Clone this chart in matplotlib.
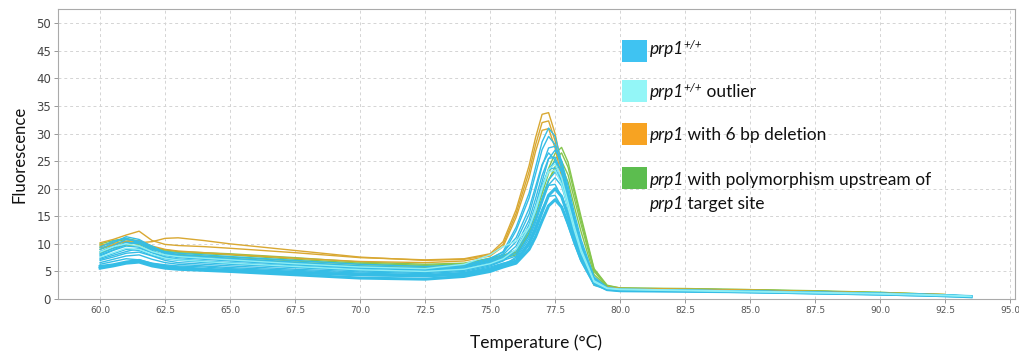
import matplotlib
matplotlib.use("Agg")
import matplotlib.pyplot as plt
from matplotlib.patches import Rectangle

# Temperature grid (°C)
temps = [60.0, 60.5, 61.0, 61.5, 62.0, 62.5, 63.0, 64.0, 65.0, 67.5, 70.0, 72.5, 74.0, 75.0,
         75.5, 76.0, 76.5, 76.75, 77.0, 77.25, 77.5, 77.75, 78.0, 78.25, 78.5, 79.0, 79.5, 80.0,
         82.5, 85.0, 87.5, 90.0, 92.5, 93.5]

# prp1+/+ curves (blue)
wt_curves = [
    [5.6, 6.0, 6.5, 6.7, 6.0, 5.6, 5.4, 5.2, 5.0, 4.4, 3.8, 3.6, 4.1, 5.0,
     5.8, 6.5, 9.0, 11.3, 14.2, 16.9, 18.0, 16.7, 13.7, 10.3, 7.2, 2.9, 1.7, 1.5,
     1.4, 1.3, 1.1, 0.9, 0.6, 0.4],
    [5.9, 6.2, 6.7, 7.0, 6.3, 5.9, 5.7, 5.4, 5.2, 4.8, 4.4, 4.2, 4.5, 5.3,
     6.1, 6.8, 10.0, 12.6, 15.8, 18.8, 20.0, 18.6, 15.2, 11.4, 8.0, 3.1, 1.8, 1.6,
     1.5, 1.3, 1.1, 0.9, 0.6, 0.45],
    [6.3, 6.8, 7.3, 7.1, 6.5, 6.2, 6.0, 5.8, 5.5, 5.0, 4.5, 4.3, 4.7, 5.6,
     6.4, 7.3, 11.0, 13.9, 17.4, 20.7, 22.0, 20.5, 16.7, 12.5, 8.8, 3.3, 1.9, 1.6,
     1.5, 1.4, 1.2, 1.0, 0.7, 0.5],
    [7.0, 7.6, 8.3, 8.5, 7.8, 7.0, 6.6, 6.3, 6.0, 5.4, 4.9, 4.6, 5.0, 6.0,
     6.9, 8.9, 13.2, 16.8, 20.6, 23.5, 23.8, 21.1, 16.8, 12.5, 8.6, 3.1, 1.9, 1.7,
     1.5, 1.3, 1.1, 0.9, 0.6, 0.45],
    [7.4, 8.2, 9.0, 8.8, 7.9, 7.3, 7.0, 6.6, 6.3, 5.7, 5.1, 4.8, 5.2, 6.3,
     7.2, 8.3, 12.5, 15.8, 19.8, 23.5, 25.0, 23.3, 19.0, 14.3, 10.0, 3.8, 2.0, 1.7,
     1.5, 1.4, 1.2, 1.0, 0.7, 0.5],
    [7.8, 8.8, 9.6, 9.4, 8.4, 7.6, 7.2, 6.9, 6.6, 6.0, 5.4, 5.0, 5.4, 6.5,
     7.5, 9.6, 14.3, 18.2, 22.4, 25.5, 25.7, 22.9, 18.2, 13.5, 9.4, 3.4, 1.9, 1.7,
     1.5, 1.3, 1.1, 0.9, 0.6, 0.45],
    [8.2, 9.2, 10.3, 10.0, 8.8, 7.9, 7.5, 7.2, 6.9, 6.2, 5.6, 5.2, 5.6, 6.7,
     7.7, 8.9, 13.5, 17.0, 21.3, 25.4, 27.0, 25.1, 20.5, 15.4, 10.8, 4.0, 2.1, 1.8,
     1.6, 1.4, 1.2, 1.0, 0.7, 0.5],
    [8.6, 9.6, 10.8, 10.5, 9.2, 8.2, 7.8, 7.5, 7.2, 6.5, 5.8, 5.4, 5.8, 7.0,
     8.0, 10.4, 15.4, 19.6, 24.1, 27.4, 27.7, 24.6, 19.6, 14.6, 10.1, 3.6, 2.0, 1.7,
     1.5, 1.3, 1.1, 0.9, 0.6, 0.45],
    [9.0, 10.2, 11.3, 10.8, 9.5, 8.5, 8.0, 7.7, 7.4, 6.7, 6.0, 5.6, 6.0, 7.2,
     8.6, 13.0, 19.2, 23.9, 28.5, 31.0, 29.5, 24.8, 19.2, 14.0, 9.3, 3.1, 1.9, 1.7,
     1.5, 1.3, 1.1, 0.9, 0.6, 0.45],
    [6.6, 7.2, 7.8, 8.0, 7.2, 6.6, 6.3, 6.0, 5.7, 5.2, 4.7, 4.4, 4.8, 5.8,
     6.5, 7.0, 10.5, 13.3, 16.3, 18.6, 18.8, 16.7, 13.3, 9.9, 6.8, 2.5, 1.7, 1.5,
     1.4, 1.2, 1.0, 0.8, 0.6, 0.4],
    [7.2, 7.9, 8.6, 9.2, 8.4, 7.6, 7.2, 6.8, 6.4, 5.8, 5.2, 4.9, 5.3, 6.2,
     7.0, 7.8, 11.6, 14.7, 18.1, 20.6, 20.8, 18.5, 14.7, 10.9, 7.6, 2.7, 1.8, 1.6,
     1.4, 1.3, 1.1, 0.9, 0.6, 0.45],
    [8.0, 8.9, 9.9, 10.4, 9.6, 8.4, 7.8, 7.4, 7.0, 6.3, 5.7, 5.3, 5.7, 6.8,
     8.2, 12.4, 18.3, 22.7, 27.1, 29.5, 28.0, 23.6, 18.3, 13.3, 8.9, 3.0, 1.9, 1.7,
     1.5, 1.3, 1.1, 0.9, 0.6, 0.45],
    [5.7, 6.1, 6.6, 6.9, 6.2, 5.8, 5.5, 5.3, 5.1, 4.7, 4.3, 4.1, 4.4, 5.1,
     6.0, 7.6, 11.5, 14.5, 18.2, 21.6, 23.0, 21.4, 17.5, 13.1, 9.2, 3.5, 1.8, 1.6,
     1.4, 1.3, 1.1, 0.9, 0.6, 0.4],
    [9.4, 10.5, 11.0, 10.2, 9.0, 8.6, 8.3, 8.0, 7.7, 7.0, 6.3, 5.9, 6.2, 7.4,
     8.5, 11.1, 16.4, 20.4, 24.4, 26.5, 25.2, 21.2, 16.4, 11.9, 8.0, 2.7, 1.9, 1.7,
     1.5, 1.4, 1.2, 1.0, 0.7, 0.5],
]

# prp1+/+ outlier curves (light cyan)
outlier_curves = [
    [8.5, 9.5, 10.0, 9.6, 8.6, 8.0, 7.7, 7.4, 7.1, 6.4, 5.8, 5.5, 6.3, 8.0,
     9.5, 10.5, 13.0, 16.0, 20.0, 23.5, 24.5, 22.0, 17.5, 13.0, 9.0, 3.3, 2.0, 1.8,
     1.6, 1.4, 1.2, 1.0, 0.7, 0.5],
    [7.6, 8.4, 9.2, 9.0, 8.1, 7.4, 7.1, 6.8, 6.5, 5.9, 5.3, 5.0, 5.4, 6.4,
     7.3, 9.0, 13.0, 16.5, 20.2, 23.0, 23.4, 20.8, 16.6, 12.3, 8.5, 3.1, 1.9, 1.7,
     1.5, 1.3, 1.1, 0.9, 0.6, 0.45],
]

# prp1 with 6 bp deletion (orange)
del_curves = [
    [10.2, 10.8, 11.6, 12.3, 10.6, 9.9, 9.7, 9.5, 9.2, 8.4, 7.5, 7.1, 7.3, 8.2,
     10.4, 16.2, 24.2, 29.3, 33.5, 33.8, 30.0, 24.2, 17.9, 12.8, 8.6, 2.8, 2.2, 1.9,
     1.8, 1.6, 1.4, 1.1, 0.8],
    [9.8, 10.1, 10.4, 10.2, 10.4, 11.0, 11.1, 10.6, 10.0, 8.8, 7.6, 7.0, 7.2, 8.0,
     9.9, 15.5, 23.1, 28.0, 32.0, 32.3, 28.7, 23.1, 17.2, 12.2, 8.3, 2.6, 2.1, 1.9,
     1.7, 1.6, 1.3, 1.1, 0.8],
    [9.3, 9.8, 10.5, 10.6, 9.6, 9.0, 8.7, 8.4, 8.1, 7.4, 6.8, 6.6, 6.9, 7.8,
     9.5, 14.8, 22.0, 26.8, 30.6, 30.9, 27.4, 22.0, 16.4, 11.7, 7.9, 2.5, 2.0, 1.8,
     1.7, 1.5, 1.3, 1.0, 0.7],
]

# prp1 with polymorphism upstream of target site (green)
poly_curves = [
    [9.6, 10.3, 10.8, 10.2, 9.2, 8.7, 8.4, 8.2, 8.0, 7.2, 6.5, 6.1, 6.4, 7.2,
     7.9, 8.8, 12.9, 16.0, 19.8, 23.7, 26.4, 27.5, 24.8, 19.8, 14.9, 5.5, 2.5, 2.0,
     1.9, 1.7, 1.5, 1.2, 0.8],
    [9.0, 9.8, 10.4, 9.9, 9.0, 8.4, 8.1, 7.8, 7.6, 6.9, 6.3, 5.9, 6.2, 7.0,
     7.7, 8.5, 12.5, 15.4, 19.1, 22.8, 25.4, 26.5, 23.9, 19.1, 14.3, 5.3, 2.4, 2.0,
     1.8, 1.7, 1.4, 1.2, 0.8],
    [8.4, 9.2, 9.8, 9.6, 8.6, 8.0, 7.7, 7.4, 7.2, 6.6, 6.0, 5.7, 6.0, 6.8,
     7.4, 8.0, 11.8, 14.5, 18.0, 21.5, 24.0, 25.0, 22.5, 18.0, 13.5, 5.0, 2.3, 1.9,
     1.8, 1.6, 1.4, 1.1, 0.7],
    [10.0, 10.6, 11.0, 10.5, 9.4, 8.9, 8.6, 8.4, 8.2, 7.5, 6.7, 6.3, 6.5, 7.4,
     8.0, 8.2, 12.0, 14.8, 18.2, 21.5, 23.6, 24.0, 21.2, 16.6, 12.2, 4.4, 2.2, 1.9,
     1.8, 1.6, 1.4, 1.1, 0.7],
]

# legend rows: list of lines, each a list of (text, kind) pieces
legend_rows = [
    [[('prp1', 'it'), ('+/+', 'sup')]],
    [[('prp1', 'it'), ('+/+', 'sup'), (' outlier', 'rm')]],
    [[('prp1', 'it'), (' with 6 bp deletion', 'rm')]],
    [[('prp1', 'it'), (' with polymorphism upstream of', 'rm')],
     [('prp1', 'it'), (' target site', 'rm')]],
]

x_ticks = [60.0 + 2.5 * i for i in range(15)]
y_ticks = list(range(0, 51, 5))

line_colors = {'wt': '#35bde6', 'out': '#8eeef4', 'del': '#d9a832', 'poly': '#86c64e'}
patch_colors = ['#3fc3f2', '#93f6f7', '#f7a322', '#5cbd4f']

W, H = 1019, 353
fig = plt.figure(figsize=(W / 100, H / 100), dpi=100)
ax = fig.add_axes([58 / W, 1 - 299 / H, (1015 - 58) / W, (299 - 9) / H])

for c in poly_curves:
    ax.plot(temps[:len(c)], c, color=line_colors['poly'], lw=1.0)
for c in del_curves:
    ax.plot(temps[:len(c)], c, color=line_colors['del'], lw=1.0)
for c in wt_curves:
    ax.plot(temps[:len(c)], c, color=line_colors['wt'], lw=1.0)
for c in wt_curves[:2]:
    ax.plot(temps[:len(c)], c, color=line_colors['wt'], lw=2.2)
for c in outlier_curves:
    ax.plot(temps[:len(c)], c, color=line_colors['out'], lw=1.0)

ax.set_xlim(58.38, 95.19)
ax.set_ylim(0, 52.6)
ax.set_xticks(x_ticks)
ax.set_xticklabels([f'{v:.1f}' for v in x_ticks], fontsize=6.5, color='#555555',
                   family=['Liberation Sans Narrow', 'DejaVu Sans'])
ax.set_yticks(y_ticks)
ax.set_yticklabels([str(v) for v in y_ticks], fontsize=8.5, color='#444444', family='DejaVu Sans')
ax.tick_params(axis='both', length=3, width=0.6, color='#888888', pad=2)
ax.grid(True, color='#d4d4d4', linestyle=(0, (3, 3)), linewidth=0.7)
ax.set_axisbelow(True)
for s in ax.spines.values():
    s.set_color('#aaaaaa')
    s.set_linewidth(0.8)

ax.set_ylabel('Fluorescence', fontsize=12, family='Lato', color='#111111', labelpad=6)
ax.set_xlabel('Temperature (°C)', fontsize=12.5, family='Lato', color='#111111', labelpad=14)

# legend
renderer = fig.canvas.get_renderer()
patch_tops = [40, 80, 123, 167]
baselines = [[54], [97], [140], [185, 209]]
for i, col in enumerate(patch_colors):
    fig.patches.append(Rectangle((622 / W, 1 - (patch_tops[i] + 22) / H), 25 / W, 22 / H,
                                 transform=fig.transFigure, facecolor=col, edgecolor='none'))
    for line, by in zip(legend_rows[i], baselines[i]):
        xpx = 650
        for txt, kind in line:
            if kind == 'sup':
                t = fig.text(xpx / W, 1 - (by - 6) / H, txt, fontsize=8.5, family='Lato',
                             style='italic', va='baseline', ha='left', color='#111111')
            else:
                t = fig.text(xpx / W, 1 - by / H, txt, fontsize=12.5, family='Lato',
                             style='italic' if kind == 'it' else 'normal',
                             va='baseline', ha='left', color='#111111')
            xpx += t.get_window_extent(renderer=renderer).width - (1 if kind == 'it' else 0)

fig.savefig('out.png', dpi=100)
